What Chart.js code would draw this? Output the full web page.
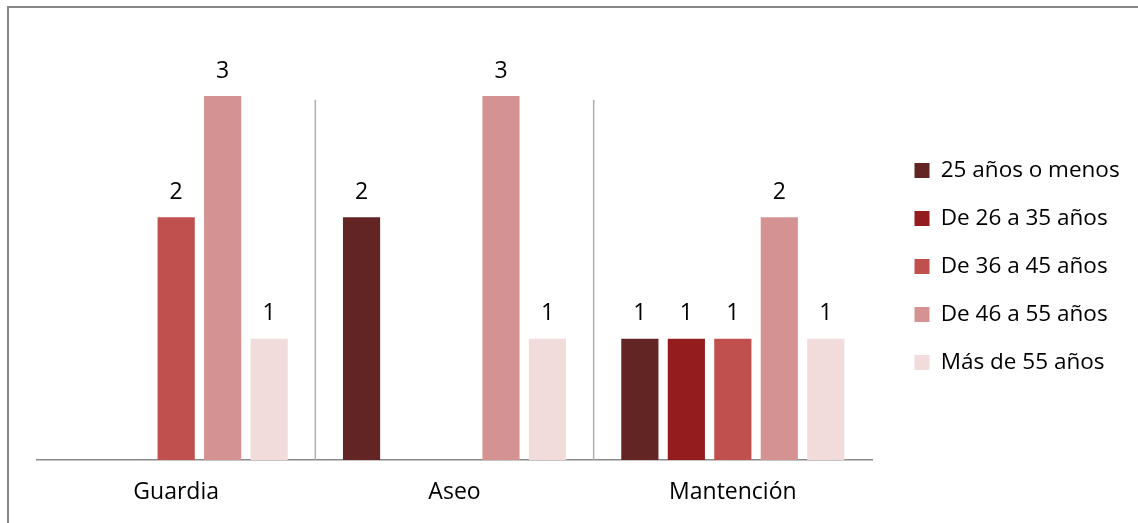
<!DOCTYPE html>
<html lang="es">
<head>
<meta charset="utf-8">
<title>Distribución por edad según área</title>
<script src="https://cdn.jsdelivr.net/npm/chart.js@4.4.1/dist/chart.umd.min.js"></script>
<style>
  html, body { margin: 0; padding: 0; background: #ffffff; overflow: hidden; }
  #wrap { position: relative; width: 1138px; height: 523px; }
  #frame {
    position: absolute; left: 7px; top: 6px; width: 1200px; height: 600px;
    border-left: 2px solid #878787; border-top: 2px solid #878787;
  }
  #box { position: absolute; left: 0; top: 0; width: 1138px; height: 523px; }
</style>
</head>
<body>
<div id="wrap">
  <div id="frame"></div>
  <div id="box"><canvas id="chart"></canvas></div>
</div>
<script>
// Áreas de trabajo (categorías del eje X)
const categories = ['Guardia', 'Aseo', 'Mantención'];

// Tramos de edad (series)
const seriesNames = ['25 años o menos', 'De 26 a 35 años', 'De 36 a 45 años', 'De 46 a 55 años', 'Más de 55 años'];

// Cantidad de personas por tramo en cada área (null = sin personas)
const age25orLess = [null, 2, 1];
const age26to35   = [null, null, 1];
const age36to45   = [2, null, 1];
const age46to55   = [3, 3, 2];
const ageOver55   = [1, 1, 1];

const seriesColors = ['#632523', '#941C1F', '#C0504D', '#D49392', '#F2DCDB'];

const FONT = "'Open Sans', 'DejaVu Sans', sans-serif";
const CHART_RIGHT = 872;      // borde derecho del área de barras
const LEGEND_FONT = 22.5;
const LEGEND_BOX = 15;
const LEGEND_PAD = 25.5;
const GAP_BEFORE_LEGEND = 17;

Chart.defaults.font.family = FONT;
Chart.defaults.color = '#000000';

// ancho de la leyenda para fijar el margen derecho
const mctx = document.createElement('canvas').getContext('2d');
mctx.font = LEGEND_FONT + 'px ' + FONT;
const maxLabel = Math.max(...seriesNames.map(s => mctx.measureText(s).width));
const legendWidth = LEGEND_BOX + LEGEND_FONT / 2 + maxLabel + LEGEND_PAD + 10;
const rightPad = 1138 - CHART_RIGHT - GAP_BEFORE_LEGEND - legendWidth;

const values = [age25orLess, age26to35, age36to45, age46to55, ageOver55];

// líneas divisorias entre áreas
const separators = {
  id: 'separators',
  beforeDatasetsDraw(chart) {
    const x = chart.scales.x, y = chart.scales.y, ctx = chart.ctx;
    const top = y.getPixelForValue(2.97);
    const bottom = chart.chartArea.bottom;
    ctx.save();
    ctx.strokeStyle = '#b0b0b0';
    ctx.lineWidth = 1.5;
    for (let i = 0; i < categories.length - 1; i++) {
      const px = (x.getPixelForValue(i) + x.getPixelForValue(i + 1)) / 2;
      ctx.beginPath();
      ctx.moveTo(px, top);
      ctx.lineTo(px, bottom);
      ctx.stroke();
    }
    ctx.restore();
  }
};

// valor sobre cada barra
const valueLabels = {
  id: 'valueLabels',
  afterDatasetsDraw(chart) {
    const ctx = chart.ctx;
    ctx.save();
    ctx.font = '23px ' + FONT;
    ctx.fillStyle = '#000000';
    ctx.textAlign = 'center';
    ctx.textBaseline = 'alphabetic';
    chart.data.datasets.forEach((ds, i) => {
      const meta = chart.getDatasetMeta(i);
      if (meta.hidden) return;
      meta.data.forEach((bar, j) => {
        const v = ds.data[j];
        if (v === null || v === undefined) return;
        ctx.fillText(String(v), bar.x, bar.y - 18.5);
      });
    });
    ctx.restore();
  }
};

new Chart(document.getElementById('chart'), {
  type: 'bar',
  data: {
    labels: categories,
    datasets: seriesNames.map((name, i) => ({
      label: name,
      data: values[i],
      backgroundColor: seriesColors[i],
      borderWidth: 0,
      categoryPercentage: 0.835,
      barPercentage: 0.8
    }))
  },
  options: {
    responsive: true,
    maintainAspectRatio: false,
    animation: false,
    layout: { padding: { top: 73, bottom: 0, left: 37, right: rightPad } },
    scales: {
      x: {
        offset: true,
        grid: { display: false, drawTicks: false },
        border: { display: true, color: '#8a8a8a', width: 1.5 },
        ticks: { font: { size: 23 }, color: '#000000', padding: 19, maxRotation: 0 },
        afterFit(scale) { scale.height = 63; }
      },
      y: {
        position: 'right',
        min: 0,
        max: 3.19,
        grid: { display: false, drawTicks: false },
        border: { display: false },
        ticks: { display: false },
        afterFit(scale) { scale.width = GAP_BEFORE_LEGEND; }
      }
    },
    plugins: {
      legend: {
        position: 'right',
        fullSize: false,
        align: 'center',
        labels: {
          boxWidth: LEGEND_BOX,
          boxHeight: LEGEND_BOX,
          padding: LEGEND_PAD,
          color: '#000000',
          font: { size: LEGEND_FONT }
        }
      },
      tooltip: { enabled: false }
    }
  },
  plugins: [separators, valueLabels]
});
</script>
</body>
</html>
